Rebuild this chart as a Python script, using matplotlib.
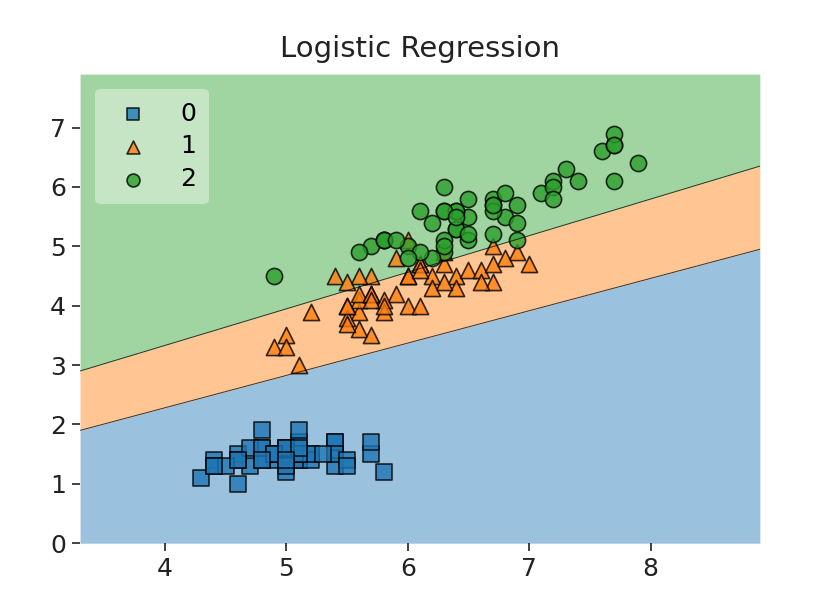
import numpy as np
import matplotlib
matplotlib.use('Agg')
import matplotlib.pyplot as plt

# sepal length (x) and petal length (y) per class
x0=[5.1,4.9,4.7,4.6,5.0,5.4,4.6,5.0,4.4,4.9,5.4,4.8,4.8,4.3,5.8,5.7,5.4,5.1,5.7,5.1,5.4,5.1,4.6,5.1,4.8,5.0,5.0,5.2,5.2,4.7,4.8,5.4,5.2,5.5,4.9,5.0,5.5,4.9,4.4,5.1,5.0,4.5,4.4,5.0,5.1,4.8,5.1,4.6,5.3,5.0]
y0=[1.4,1.4,1.3,1.5,1.4,1.7,1.4,1.5,1.4,1.5,1.5,1.6,1.4,1.1,1.2,1.5,1.3,1.4,1.7,1.5,1.7,1.5,1.0,1.7,1.9,1.6,1.6,1.5,1.4,1.6,1.6,1.5,1.5,1.4,1.5,1.2,1.3,1.5,1.3,1.5,1.3,1.3,1.3,1.6,1.9,1.4,1.6,1.4,1.5,1.4]
x1=[7.0,6.4,6.9,5.5,6.5,5.7,6.3,4.9,6.6,5.2,5.0,5.9,6.0,6.1,5.6,6.7,5.6,5.8,6.2,5.6,5.9,6.1,6.3,6.1,6.4,6.6,6.8,6.7,6.0,5.7,5.5,5.5,5.8,6.0,5.4,6.0,6.7,6.3,5.6,5.5,5.5,6.1,5.8,5.0,5.6,5.7,5.7,6.2,5.1,5.7]
y1=[4.7,4.5,4.9,4.0,4.6,4.5,4.7,3.3,4.6,3.9,3.5,4.2,4.0,4.7,3.6,4.4,4.5,4.1,4.5,3.9,4.8,4.0,4.9,4.7,4.3,4.4,4.8,5.0,4.5,3.5,3.8,3.7,3.9,5.1,4.5,4.5,4.7,4.4,4.1,4.0,4.4,4.6,4.0,3.3,4.2,4.2,4.2,4.3,3.0,4.1]
x2=[6.3,5.8,7.1,6.3,6.5,7.6,4.9,7.3,6.7,7.2,6.5,6.4,6.8,5.7,5.8,6.4,6.5,7.7,7.7,6.0,6.9,5.6,7.7,6.3,6.7,7.2,6.2,6.1,6.4,7.2,7.4,7.9,6.4,6.3,6.1,7.7,6.3,6.4,6.0,6.9,6.7,6.9,5.8,6.8,6.7,6.7,6.3,6.5,6.2,5.9]
y2=[6.0,5.1,5.9,5.6,5.8,6.6,4.5,6.3,5.8,6.1,5.1,5.3,5.5,5.0,5.1,5.3,5.5,6.7,6.9,5.0,5.7,4.9,6.7,4.9,5.7,6.0,4.8,4.9,5.6,5.8,6.1,6.4,5.6,5.1,5.6,6.1,5.6,5.5,4.8,5.4,5.6,5.1,5.1,5.9,5.7,5.2,5.0,5.2,5.4,5.1]

# decision boundaries
bx=[3.3,8.9]
upper=[2.9,6.35]
lower=[1.9,4.95]

labels=['0','1','2']
colors=['tab:blue','tab:orange','tab:green']
markers=['s','^','o']

fig=plt.figure(figsize=(8.17,5.93),dpi=100)
ax=fig.add_axes([0.098,0.084,0.832,0.791])

ax.fill_between(bx,0,lower,color=colors[0],alpha=0.45,lw=0)
ax.fill_between(bx,lower,upper,color=colors[1],alpha=0.45,lw=0)
ax.fill_between(bx,upper,7.9,color=colors[2],alpha=0.45,lw=0)
ax.plot(bx,lower,color='k',lw=0.7,alpha=0.75)
ax.plot(bx,upper,color='k',lw=0.7,alpha=0.75)

for xs,ys,c,m,l in zip([x0,x1,x2],[y0,y1,y2],colors,markers,labels):
    ax.scatter(xs,ys,c=c,marker=m,s=135,alpha=0.8,edgecolors='black',linewidths=1.2,label=l)

ax.set_xlim(3.3,8.9)
ax.set_ylim(0,7.9)
ax.set_xticks([4,5,6,7,8])
ax.set_yticks([0,1,2,3,4,5,6,7])
for s in ax.spines.values():
    s.set_visible(False)
ax.tick_params(labelsize=18,length=6,width=1.2,pad=4,colors='#222222')
ax.set_title('Logistic Regression',fontsize=21,color='#222222',pad=12)
leg=ax.legend(loc='upper left',fontsize=18,frameon=True,framealpha=0.4,edgecolor='none',
              handletextpad=0.9,borderpad=0.5,labelspacing=0.35,scatterpoints=1,
              markerscale=0.8,borderaxespad=0.6)
leg.get_frame().set_facecolor('white')

fig.savefig('out.png',dpi=100)
